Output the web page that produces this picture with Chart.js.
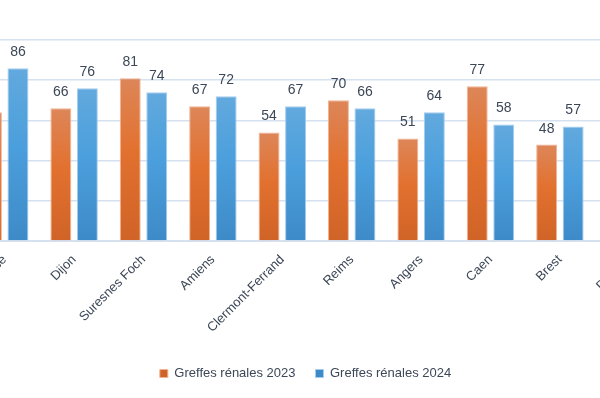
<!DOCTYPE html>
<html>
<head>
<meta charset="utf-8">
<script src="https://cdn.jsdelivr.net/npm/chart.js@4/dist/chart.umd.min.js"></script>
<style>
  html, body { margin: 0; padding: 0; background: #fff; }
  #wrap { position: relative; width: 600px; height: 398px; overflow: hidden; }
  #box { position: absolute; left: -53px; top: 0; width: 717px; height: 398px; }
</style>
</head>
<body>
<div id="wrap"><div id="box"><canvas id="chart"></canvas></div></div>
<script>
const categories = ['Toulouse', 'Dijon', 'Suresnes Foch', 'Amiens', 'Clermont-Ferrand', 'Reims', 'Angers', 'Caen', 'Brest', 'Poitiers'];
const greffes2023 = [64, 66, 81, 67, 54, 70, 51, 77, 48, 45];
const greffes2024 = [86, 76, 74, 72, 67, 66, 64, 58, 57, 50];
const seriesNames = ['Greffes rénales 2023', 'Greffes rénales 2024'];

const textColor = '#3c4757';
const gridColor = '#d6e1f0';
const fontFamily = '"Liberation Sans", Arial, sans-serif';

// gradient per bar, lighter at the top
function barGradient(top, mid, bottom) {
  return (context) => {
    const chart = context.chart;
    const y = chart.scales.y;
    if (!y || !chart.chartArea || context.raw == null) return mid;
    const yTop = y.getPixelForValue(context.raw);
    const yBase = y.getPixelForValue(0);
    if (!isFinite(yTop) || !isFinite(yBase) || yTop === yBase) return mid;
    const g = chart.ctx.createLinearGradient(0, yTop, 0, yBase);
    g.addColorStop(0, top);
    g.addColorStop(0.45, mid);
    g.addColorStop(1, bottom);
    return g;
  };
}

const valueLabels = {
  id: 'valueLabels',
  afterDatasetsDraw(chart) {
    const ctx = chart.ctx;
    ctx.save();
    ctx.font = '14px ' + fontFamily;
    ctx.fillStyle = textColor;
    ctx.textAlign = 'center';
    ctx.textBaseline = 'alphabetic';
    chart.data.datasets.forEach((ds, i) => {
      chart.getDatasetMeta(i).data.forEach((bar, j) => {
        ctx.fillText(ds.data[j], bar.x, bar.y - 12);
      });
    });
    ctx.restore();
  }
};

new Chart(document.getElementById('chart'), {
  type: 'bar',
  data: {
    labels: categories,
    datasets: [
      {
        label: seriesNames[0],
        data: greffes2023,
        backgroundColor: barGradient('#dd8659', '#e2712f', '#d06327'),
        borderColor: '#f1b494',
        borderWidth: 1,
        categoryPercentage: 0.764,
        barPercentage: 0.79
      },
      {
        label: seriesNames[1],
        data: greffes2024,
        backgroundColor: barGradient('#62a9de', '#4b9fdc', '#3e8ac8'),
        borderColor: '#a3cdee',
        borderWidth: 1,
        categoryPercentage: 0.764,
        barPercentage: 0.79
      }
    ]
  },
  options: {
    responsive: true,
    maintainAspectRatio: false,
    animation: false,
    layout: { padding: { top: 40, left: 0, right: 0, bottom: 8 } },
    scales: {
      x: {
        grid: { display: false },
        border: { color: gridColor, width: 2 },
        ticks: {
          color: textColor,
          font: { size: 13, family: fontFamily },
          autoSkip: false,
          minRotation: 45,
          maxRotation: 45
        },
        afterFit(scale) { scale.height = 106; }
      },
      y: {
        min: 0,
        max: 100,
        ticks: { stepSize: 20, display: false },
        border: { display: false },
        grid: { color: gridColor, lineWidth: 1.5, drawTicks: false },
        afterFit(scale) { scale.width = 23; }
      }
    },
    plugins: {
      legend: {
        position: 'bottom',
        labels: {
          color: textColor,
          font: { size: 13, family: fontFamily },
          boxWidth: 8,
          boxHeight: 8,
          padding: 20
        }
      },
      tooltip: { enabled: false }
    }
  },
  plugins: [valueLabels]
});
</script>
</body>
</html>
